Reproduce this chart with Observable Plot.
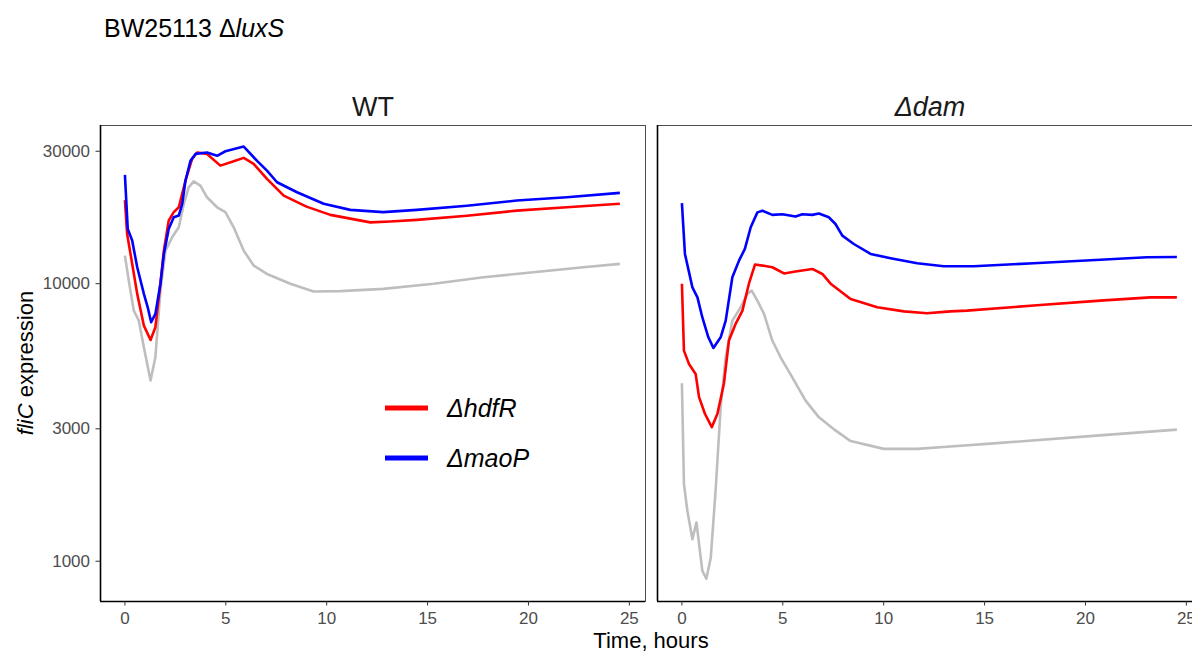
<!DOCTYPE html>
<html><head><meta charset="utf-8">
<script src="https://cdn.jsdelivr.net/npm/d3@7"></script>
<script src="https://cdn.jsdelivr.net/npm/@observablehq/plot@0.6"></script>
<style>
html,body{margin:0;padding:0;background:#fff;overflow:hidden;width:1192px;height:653px;}
#chart{position:relative;width:1192px;height:653px;overflow:hidden;}
#chart svg{position:absolute;left:0;top:0;max-width:none !important;width:1203px !important;height:653px !important;}
</style></head><body><div id="chart"></div>
<script>
// ---- data ----
const panels = ["WT", "Δdam"];
const seriesNames = ["control", "ΔhdfR", "ΔmaoP"];
const seriesColors = ["#bebebe", "#ff0000", "#0000ff"];
const legendNames = ["ΔhdfR", "ΔmaoP"];
const legendColors = ["#ff0000", "#0000ff"];
const xTicks = [0, 5, 10, 15, 20, 25];
const yTicks = [1000, 3000, 10000, 30000];
const xDomain = [-1.21, 25.8];
const yDomain = [716, 37150];

// WT panel: [time (h), fliC expression]
const wtControl = [[0,12620],[0.19,10260],[0.44,8000],[0.69,7360],[0.94,5900],[1.27,4480],[1.51,5430],[1.76,9440],[2.01,13150],[2.34,14690],[2.67,15970],[2.92,19400],[3.16,22250],[3.41,23380],[3.74,22560],[4.07,20480],[4.57,18850],[4.98,18100],[5.39,15970],[5.89,13150],[6.38,11620],[7.04,10840],[8.2,10000],[9.35,9370],[10.67,9400],[12.8,9580],[15.3,10000],[17.77,10550],[20.24,10990],[22.72,11460],[24.53,11790]];
const wtHdfR = [[0,20000],[0.11,15100],[0.36,11790],[0.61,9190],[0.94,7060],[1.27,6270],[1.51,6970],[1.76,10000],[1.93,13150],[2.17,16880],[2.42,18100],[2.67,18850],[3.0,23500],[3.33,28150],[3.58,29700],[4.07,29350],[4.73,26630],[5.39,27600],[5.89,28400],[6.38,27000],[7.04,23850],[7.87,20750],[9.0,18950],[10.18,17700],[11.5,16980],[12.16,16630],[13.15,16750],[14.47,16980],[16.95,17580],[19.42,18330],[21.9,18850],[24.53,19400]];
const wtMaoP = [[0,24660],[0.14,15750],[0.36,14300],[0.61,11460],[0.94,9190],[1.13,8220],[1.3,7260],[1.51,7780],[1.76,10000],[1.93,12800],[2.17,15750],[2.42,17350],[2.67,17600],[2.84,19400],[3.0,23500],[3.25,27700],[3.5,29350],[4.07,29700],[4.57,28900],[4.98,30000],[5.89,31200],[6.55,27700],[7.04,25550],[7.54,23200],[8.53,21350],[9.85,19400],[11.17,18450],[12.8,18100],[14.47,18450],[16.95,19100],[19.42,19930],[21.9,20480],[24.53,21240]];

// Δdam panel
const damControl = [[0,4380],[0.1,1900],[0.27,1520],[0.52,1200],[0.72,1380],[0.85,1155],[1.01,925],[1.21,865],[1.43,1030],[1.67,1800],[1.92,3590],[2.17,5430],[2.5,7360],[2.91,8220],[3.24,9190],[3.46,9440],[3.74,8690],[4.07,7780],[4.48,6240],[4.89,5430],[5.47,4600],[6.13,3790],[6.79,3300],[7.61,2960],[8.36,2710],[10.0,2540],[11.66,2540],[13.3,2590],[15.8,2670],[20.7,2840],[24.53,2980]];
const damHdfR = [[0,10000],[0.1,5740],[0.35,5140],[0.68,4730],[0.85,3900],[1.14,3400],[1.48,3040],[1.76,3400],[2.08,4360],[2.33,6240],[2.66,7160],[3.0,8000],[3.32,10000],[3.62,11720],[3.99,11620],[4.48,11460],[5.06,10890],[5.63,11060],[6.46,11300],[6.96,10840],[7.37,10000],[8.36,8810],[9.68,8220],[11.0,7950],[12.15,7820],[13.3,7950],[14.13,8000],[17.43,8340],[20.73,8690],[23.21,8930],[24.53,8930]];
const damMaoP = [[0,19500],[0.15,12800],[0.52,9700],[0.77,8930],[1.01,7570],[1.31,6410],[1.56,5870],[1.92,6410],[2.17,7360],[2.5,10550],[2.83,12110],[3.12,13350],[3.41,15970],[3.74,18070],[3.99,18330],[4.48,17700],[4.98,17800],[5.63,17450],[5.97,17800],[6.46,17700],[6.79,17900],[7.28,17350],[7.61,16410],[7.95,14900],[8.52,13900],[9.35,12800],[10.34,12360],[11.66,11850],[12.98,11560],[14.46,11560],[17.43,11850],[20.73,12190],[23.04,12450],[24.53,12480]];

// ---- build table ----
const seriesByPanel = {
  "WT": [wtControl, wtHdfR, wtMaoP],
  "Δdam": [damControl, damHdfR, damMaoP]
};
const rows = [];
for (const p of panels) {
  seriesByPanel[p].forEach((arr, i) => {
    for (const [t, v] of arr) rows.push({panel: p, series: seriesNames[i], t, v});
  });
}

const FONT = "'Liberation Sans', Arial, Helvetica, sans-serif";

const chart = Plot.plot({
  width: 1203, height: 653,
  marginLeft: 100, marginRight: 0, marginTop: 125, marginBottom: 52,
  style: {fontFamily: FONT, background: "#fff", overflow: "visible"},
  x: {domain: xDomain},
  y: {type: "log", domain: yDomain},
  fx: {domain: panels, paddingInner: 0.0215, paddingOuter: 0, axis: null, label: null},
  color: {domain: seriesNames, range: seriesColors},
  marks: [
    Plot.frame({stroke: "#4d4d4d", strokeWidth: 1}),
    Plot.line(rows, {fx: "panel", x: "t", y: "v", z: "series", stroke: "series", strokeWidth: 2.6, strokeLinejoin: "round", strokeLinecap: "butt"}),
    Plot.ruleX([xDomain[0]], {stroke: "#000", strokeWidth: 1.6}),
    Plot.ruleY([yDomain[0]], {stroke: "#000", strokeWidth: 1.6}),
    Plot.axisX({ticks: xTicks, tickFormat: d => String(d), tickSize: 4.5, tickPadding: 5.5, fontSize: 17, label: null, color: "#4d4d4d"}),
    Plot.axisY({ticks: yTicks, tickFormat: d => String(d), tickSize: 4.5, tickPadding: 6, fontSize: 17, label: null, color: "#4d4d4d"}),
    Plot.text([panels[0]], {fx: d => d, text: d => d, frameAnchor: "top", dy: -10, lineAnchor: "bottom", fontSize: 27, fill: "#1a1a1a"}),
    Plot.text([panels[1]], {fx: d => d, text: d => d, frameAnchor: "top", dy: -10, lineAnchor: "bottom", fontSize: 27, fontStyle: "italic", fill: "#1a1a1a"})
  ]
});
document.getElementById("chart").appendChild(chart);

// style ticks
const svg = d3.select(chart);
svg.selectAll("g[aria-label='x-axis tick'] path, g[aria-label='y-axis tick'] path").attr("stroke", "#333");

// title
const title = svg.append("text").attr("x", 104).attr("y", 37).attr("text-anchor", "start").attr("font-size", 25).attr("fill", "#000").attr("font-family", FONT);
title.append("tspan").text("BW25113 Δ");
title.append("tspan").attr("font-style", "italic").text("luxS");

// x axis title
svg.append("text").attr("x", 651).attr("y", 648).attr("text-anchor", "middle").attr("font-size", 22).attr("fill", "#000").attr("font-family", FONT).text("Time, hours");

// y axis title
const yt = svg.append("text").attr("transform", "translate(33,363) rotate(-90)").attr("text-anchor", "middle").attr("font-size", 22).attr("fill", "#000").attr("font-family", FONT);
yt.append("tspan").attr("font-style", "italic").text("fliC");
yt.append("tspan").text(" expression");

// legend
legendNames.forEach((name, i) => {
  const cy = 408 + i * 50;
  svg.append("line").attr("x1", 385).attr("x2", 428).attr("y1", cy).attr("y2", cy).attr("stroke", legendColors[i]).attr("stroke-width", 5);
  svg.append("text").attr("x", 447).attr("y", cy).attr("dy", "0.35em").attr("text-anchor", "start").attr("font-size", 25).attr("font-style", "italic").attr("fill", "#000").attr("font-family", FONT).text(name);
});
</script></body></html>
